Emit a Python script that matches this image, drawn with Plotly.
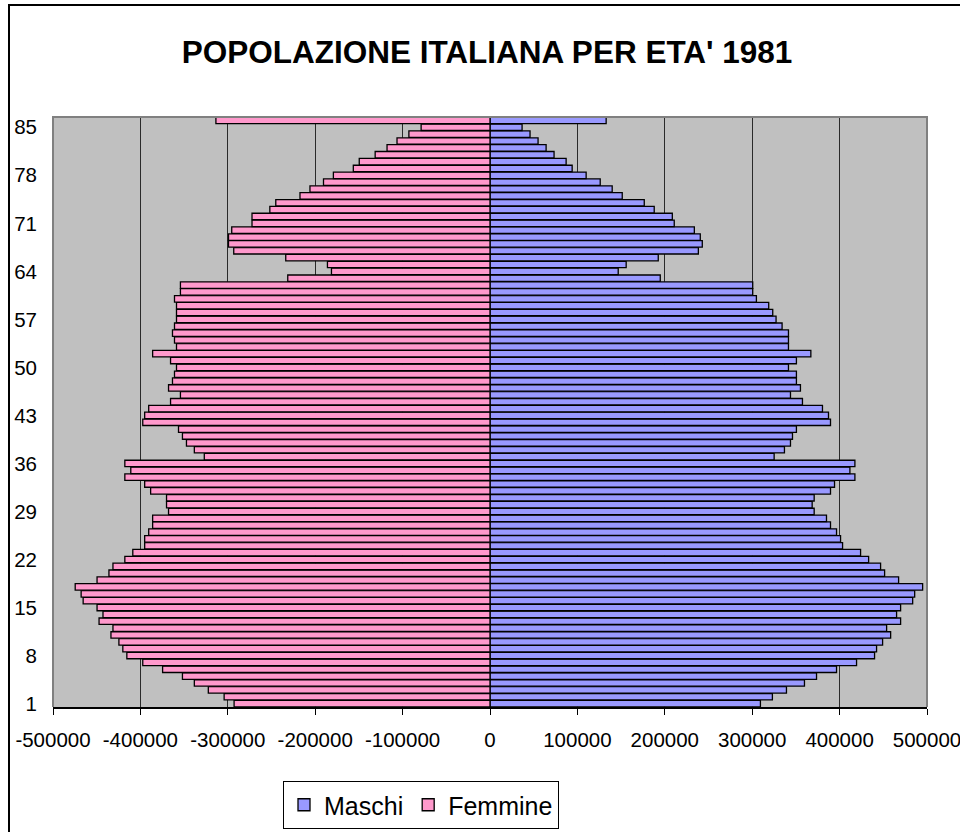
import plotly.graph_objects as go

# Age classes (the top one is the open-ended class above 85)
eta = list(range(1, 87))

maschi = [
    309400, 323100, 339200, 359800, 373600, 396500, 419400, 440000, 442300, 449200,
    458400, 453800, 469800, 465200, 469800, 483600, 485900, 495000, 467500, 451500,
    446900, 433200, 424000, 403400, 401100, 396500, 389600, 385000, 370900, 368600,
    370900, 389600, 394200, 417500, 411800, 417500, 325100, 336900, 343800, 346100,
    350600, 389600, 387300, 380400, 357500, 343800, 355200, 350600, 350600, 341500,
    350600, 367100, 341500, 341500, 341500, 334200, 327300, 323500, 318900, 304800,
    300600, 300600, 194800, 146700, 155800, 192500, 238400, 242900, 240600, 233800,
    210800, 208600, 187900, 176500, 151300, 139800, 126100, 110000, 94000, 87100,
    73300, 64200, 55000, 45800, 36700, 132900,
]

femmine = [
    292800, 304200, 322300, 338300, 351900, 374600, 397300, 415500, 420100, 424600,
    433700, 431400, 447300, 442800, 449600, 465500, 467800, 474600, 449600, 436000,
    431400, 417800, 408700, 395100, 395100, 390500, 386000, 386000, 367800, 370100,
    370100, 388300, 395100, 417800, 411000, 417800, 326900, 338300, 347300, 351900,
    356400, 397300, 395100, 390500, 365500, 354200, 367800, 363300, 361000, 358700,
    365500, 386000, 358700, 361000, 363300, 361000, 358700, 358700, 358700, 361000,
    354200, 354200, 231400, 181400, 186000, 233700, 293200, 299200, 299200, 295500,
    272300, 272300, 251900, 245100, 217400, 206000, 190500, 179200, 156400, 149600,
    131400, 117800, 106400, 92800, 78800, 313600,
]

y_tickvals = [1, 8, 15, 22, 29, 36, 43, 50, 57, 64, 71, 78, 85]
y_ticktext = [str(v) for v in y_tickvals]
x_tickvals = [-500000, -400000, -300000, -200000, -100000, 0,
              100000, 200000, 300000, 400000, 500000]
x_ticktext = [str(v) for v in x_tickvals]

W, H = 960, 832
L, R, T, B = 53, 33, 117, 125
pw, ph = W - L - R, H - T - B

def px_x(x):
    return (x - L) / pw

def px_y(y):
    return (H - B - y) / ph

fig = go.Figure()
fig.add_trace(go.Bar(
    y=eta, x=maschi, orientation="h", name="Maschi",
    marker=dict(color="#9999FF", line=dict(color="black", width=1.3)),
))
fig.add_trace(go.Bar(
    y=eta, x=[-v for v in femmine], orientation="h", name="Femmine",
    marker=dict(color="#FF99CC", line=dict(color="black", width=1.3)),
))

fig.update_layout(
    width=W, height=H,
    margin=dict(l=L, r=R, t=T, b=B, pad=0, autoexpand=False),
    paper_bgcolor="white",
    plot_bgcolor="#C0C0C0",
    barmode="overlay",
    bargap=0.06,
    font=dict(family="Arial, Liberation Sans, sans-serif", color="black", size=20),
    title=dict(
        text="POPOLAZIONE ITALIANA PER ETA' 1981",
        x=487 / W, xanchor="center", xref="container",
        y=1 - 52 / H, yanchor="middle", yref="container",
        font=dict(size=31.5, weight="bold", family="Arial, Liberation Sans, sans-serif"),
        automargin=False,
    ),
    xaxis=dict(
        range=[-500000, 500000],
        tickvals=x_tickvals, ticktext=x_ticktext,
        showgrid=True, gridcolor="#2a2a2a", gridwidth=1,
        zeroline=True, zerolinecolor="black", zerolinewidth=2,
        showline=True, linecolor="black", linewidth=1.5,
        ticks="outside", ticklen=6, tickcolor="black", tickwidth=1,
        ticklabelstandoff=8,
        ticklabeloverflow="allow",
        tickfont=dict(size=20.5),
        automargin=False,
        fixedrange=True,
    ),
    yaxis=dict(
        range=[0.5, 86.5],
        tickvals=y_tickvals, ticktext=y_ticktext,
        showgrid=False, zeroline=False,
        showline=False, ticks="",
        ticklabelstandoff=15,
        ticklabeloverflow="allow",
        tickfont=dict(size=20.5),
        automargin=False,
        fixedrange=True,
    ),
    yaxis2=dict(
        range=[0.5, 86.5], overlaying="y", anchor="free", position=0.5,
        side="right", showticklabels=False, showgrid=False, zeroline=False,
        showline=False, ticks="outside", ticklen=4, tickcolor="#333333",
        tickvals=eta, automargin=False, fixedrange=True,
    ),
    legend=dict(
        orientation="h",
        x=px_x(283), xanchor="left",
        y=px_y(781), yanchor="top",
        bordercolor="black", borderwidth=1, bgcolor="white",
        font=dict(size=25),
        traceorder="normal",
    ),
    showlegend=True,
    shapes=[
        # gray border of the plot area (top, left, right)
        dict(type="path", xref="paper", yref="paper",
             path="M 0,0 L 0,1 L 1,1 L 1,0",
             line=dict(color="#808080", width=2), layer="above"),
        # outer chart frame (only left and top edges fall inside the picture)
        dict(type="rect", xref="paper", yref="paper",
             x0=px_x(9), x1=px_x(1400), y0=px_y(1400), y1=px_y(5),
             line=dict(color="black", width=2), layer="above"),
    ],
)

fig.write_html(
    "out.html",
    config={"displayModeBar": False},
    post_script="document.body.style.margin='0';document.body.style.overflow='hidden';",
)
